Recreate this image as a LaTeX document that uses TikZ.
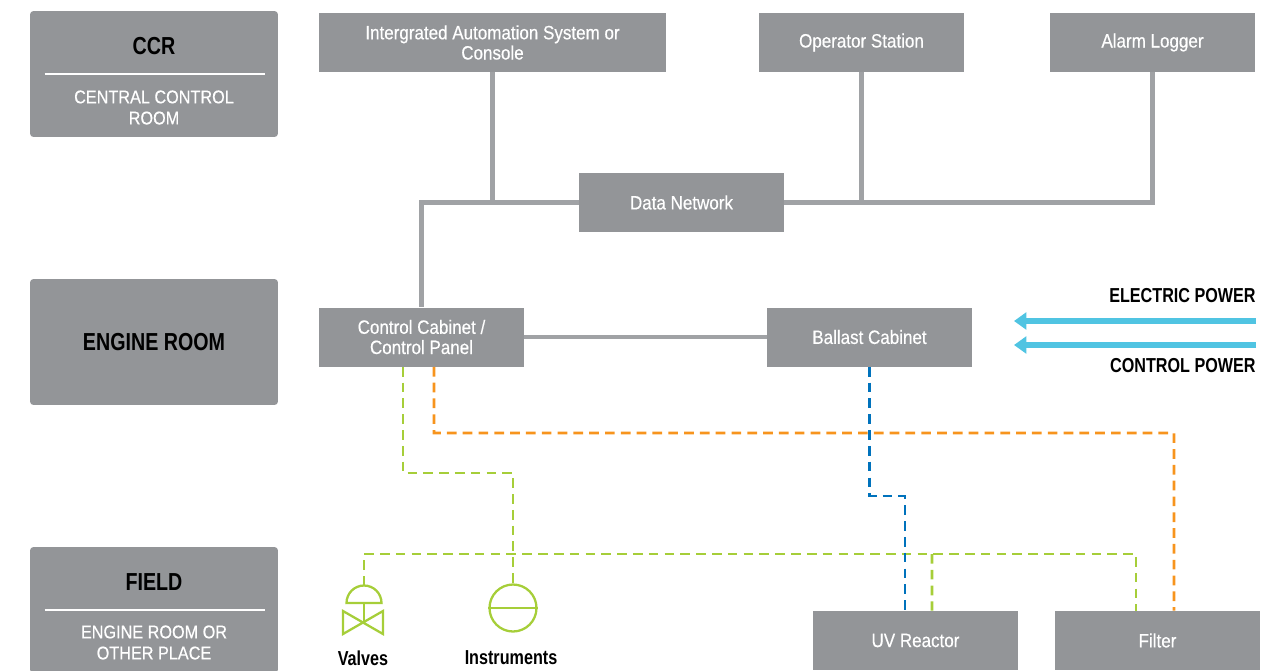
\documentclass[tikz,border=0pt]{standalone}
\usepackage{fontspec}
\setmainfont{Liberation Sans}
\newfontfamily\boxfont[FakeStretch=0.88,FakeBold=0.4]{Liberation Sans}
\newfontfamily\tagfont[FakeStretch=0.8]{Liberation Sans}
\usetikzlibrary{arrows.meta}
\usetikzlibrary{calc}
\usetikzlibrary{positioning}
\definecolor{boxgray}{RGB}{147,149,152}
\definecolor{linegray}{RGB}{160,162,165}
\definecolor{sgreen}{RGB}{166,206,57}
\definecolor{sorange}{RGB}{247,148,29}
\definecolor{sblue}{RGB}{0,114,188}
\definecolor{pcyan}{RGB}{80,196,226}

\begin{document}
\begin{tikzpicture}[x=0.02cm, y=-0.02cm]

\tikzset{
  % grey equipment boxes
  unit/.style={fill=boxgray, text=white, inner sep=0pt, align=center,
    minimum width=4.1cm, minimum height=1.18cm,
    font=\boxfont\fontsize{11}{11.5}\selectfont},
  % zone boxes on the left
  zone/.style={fill=boxgray, rounded corners=2pt, inner sep=0pt,
    minimum width=4.96cm, minimum height=2.52cm},
  zonetitle/.style={font=\tagfont\bfseries\fontsize{14}{16}\selectfont, text=black},
  zonetext/.style={font=\boxfont\fontsize{10.5}{12}\selectfont, text=white, align=center},
  tag/.style={font=\tagfont\bfseries\fontsize{11.5}{13}\selectfont, inner sep=0pt},
  net/.style={draw=linegray, line width=2.3pt},
  sig/.style={line width=1.5pt, dash pattern=on 5.5pt off 3.5pt},
  symb/.style={draw=sgreen, line width=1.3pt},
  power/.style={draw=pcyan, line width=3.4pt, -{Triangle[length=7pt,width=9.5pt]}},
}

\useasboundingbox (0,0) rectangle (1288,670);

% zones
\node[zone] (ccr) at (154,74) {};
\node[zonetitle] (ccrtitle) at (154,46) {CCR};
\draw[white, line width=0.6pt] ($(ccr.west)+(15,0)$) -- ($(ccr.east)+(-13,0)$);
\node[zonetext] (ccrtext) at (154,107.5) {CENTRAL CONTROL\\ROOM};

\node[zone, zonetitle] (eng) at (154,342) {ENGINE ROOM};

\node[zone] (fld) at (154,610) {};
\node[zonetitle] (fldtitle) at (154,582) {FIELD};
\draw[white, line width=0.6pt] ($(fld.west)+(15,0)$) -- ($(fld.east)+(-13,0)$);
\node[zonetext] (fldtext) at (154,642.5) {ENGINE ROOM OR\\OTHER PLACE};

% equipment
\node[unit, minimum width=6.94cm] (ias) at (492.5,42.5) {Intergrated Automation System or\\Console};
\node[unit] (ops) at (861.5,42.5) {Operator Station};
\node[unit] (alm) at (1152.5,42.5) {Alarm Logger};
\node[unit] (dnet) at (681.5,202.5) {Data Network};
\node[unit] (ccab) at (421.5,337) {Control Cabinet /\\Control Panel};
\node[unit] (bcab) at (869.5,337) {Ballast Cabinet};
\node[unit] (uvr) at (915.5,640.5) {UV Reactor};
\node[unit] (flt) at (1157.5,640.5) {Filter};

% network
\draw[net] (ccab.north) |- (dnet.west);
\draw[net] (ias.south) -- (ias.south |- dnet.west);
\draw[net] (dnet.east) -| (alm.south);
\draw[net] (ops.south) -- (ops.south |- dnet.east);
\draw[net] (ccab.east) -- (bcab.west);

% power in
\coordinate (epin) at (1256,321);
\coordinate (epout) at (1014,321);
\coordinate (cpin) at (1256,345);
\coordinate (cpout) at (1014,345);
\draw[power] (epin) -- (epout);
\draw[power] (cpin) -- (cpout);
\node[tag, anchor=east] (eplbl) at (1256,296) {ELECTRIC POWER};
\node[tag, anchor=east] (cplbl) at (1256,366) {CONTROL POWER};

% field symbols
\coordinate (vtop) at (364,585.5);
\draw[symb] (381.5,603) arc[start angle=0, end angle=180, radius=0.35cm] -- cycle;
\draw[symb] (364,603) -- (364,622);
\draw[symb] (343,611) -- (383,634) -- (383,611) -- (343,634) -- cycle;
\node[symb, circle, minimum size=0.94cm, inner sep=0pt] (inst) at (513,608) {};
\draw[symb] (inst.west) -- (inst.east);
\node[tag] (vlbl) at (363,658) {Valves};
\node[tag] (ilbl) at (511,658) {Instruments};

% signal wiring
\draw[sig, sgreen] ($(ccab.south)+(-18.5,0)$) |- (513,473) -- (inst.north);
\draw[sig, sgreen] (vtop) |- (1136,554) -- ($(flt.north)+(-21.5,0)$);
\draw[sig, sgreen] (932,554) -- ($(uvr.north)+(16.5,0)$);
\draw[sig, sorange] ($(ccab.south)+(12.5,0)$) |- (1174,433) -- ($(flt.north)+(16.5,0)$);
\draw[sig, sblue] (bcab.south) |- (905,496) -- ($(uvr.north)+(-10.5,0)$);

\end{tikzpicture}
\end{document}
